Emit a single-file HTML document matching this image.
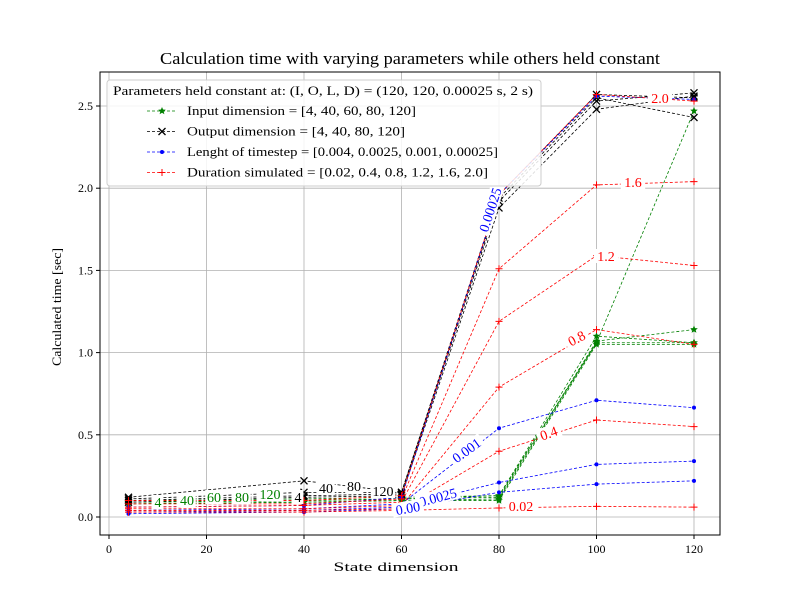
<!DOCTYPE html>
<html><head><meta charset="utf-8"><style>
body{margin:0;background:#fff}
svg{font-family:"Liberation Serif",serif}
</style></head><body>
<svg id="chart" width="800" height="600" viewBox="0 0 800 600">
<rect width="800" height="600" fill="#fff"/>
<text x="410" y="64" font-size="17" text-anchor="middle" textLength="500" lengthAdjust="spacingAndGlyphs">Calculation time with varying parameters while others held constant</text>
<g id="grid"></g>
<g id="series"></g>
<g id="labels"></g>
<rect x="100" y="72" width="620" height="463" fill="none" stroke="#000" stroke-width="1"/>
<g id="ticks"></g>
<text x="396" y="571" font-size="13" text-anchor="middle" textLength="125" lengthAdjust="spacingAndGlyphs">State dimension</text>
<text x="61" y="307" font-size="13" text-anchor="middle" textLength="118" lengthAdjust="spacingAndGlyphs" transform="rotate(-90 61 307)">Calculated time [sec]</text>
<g>
<rect x="107" y="80" width="434" height="106" rx="3" fill="#fff" fill-opacity="0.85" stroke="#ccc"/>
<text x="113" y="95" font-size="13" textLength="420" lengthAdjust="spacingAndGlyphs">Parameters held constant at: (I, O, L, D) = (120, 120, 0.00025 s, 2 s)</text>
<g id="legend-entries"></g>
</g>
</svg>
<script>
const xStates=[4,40,60,80,100,120];
const inputNames=["4","40","60","80","120"];
const inputVals=[
 [0.08,0.09,0.10,0.10,1.05,1.05],
 [0.08,0.09,0.10,0.11,1.06,1.06],
 [0.09,0.10,0.11,0.12,1.07,1.14],
 [0.09,0.10,0.11,0.13,1.10,1.06],
 [0.10,0.11,0.12,0.13,1.06,2.47]];
const outputNames=["4","40","80","120"];
const outputVals=[
 [0.09,0.12,0.13,1.88,2.48,2.56],
 [0.10,0.13,0.14,1.92,2.53,2.58],
 [0.11,0.15,0.15,1.94,2.55,2.43],
 [0.12,0.22,0.15,1.96,2.57,2.55]];
const stepNames=["0.004","0.0025","0.001","0.00025"];
const stepVals=[
 [0.02,0.03,0.05,0.15,0.20,0.22],
 [0.03,0.04,0.06,0.21,0.32,0.34],
 [0.04,0.05,0.08,0.54,0.71,0.665],
 [0.06,0.07,0.12,1.96,2.56,2.54]];
const durNames=["0.02","0.4","0.8","1.2","1.6","2.0"];
const durVals=[
 [0.03,0.03,0.04,0.055,0.065,0.06],
 [0.04,0.04,0.05,0.40,0.59,0.55],
 [0.05,0.05,0.07,0.79,1.14,1.05],
 [0.06,0.07,0.09,1.19,1.59,1.53],
 [0.08,0.08,0.11,1.51,2.02,2.04],
 [0.10,0.10,0.13,1.96,2.57,2.53]];
const xTicks=[0,20,40,60,80,100,120];
const yTicks=[0.0,0.5,1.0,1.5,2.0,2.5];

const NS="http://www.w3.org/2000/svg";
const X=v=>109+v*4.875;
const Y=v=>517-v*164.4;
function mk(tag,attrs,parent){const e=document.createElementNS(NS,tag);for(const k in attrs)e.setAttribute(k,attrs[k]);parent.appendChild(e);return e;}
const grid=document.getElementById('grid'),ticks=document.getElementById('ticks'),ser=document.getElementById('series'),lab=document.getElementById('labels');
xTicks.forEach(t=>{
 const l=mk('line',{x1:X(t),x2:X(t),y1:72,y2:535,stroke:'#b0b0b0','stroke-width':0.8},grid);
 
 const tk=mk('line',{x1:X(t),x2:X(t),y1:535,y2:539,stroke:'#000'},ticks);
 
 const tx=mk('text',{x:X(t),y:553,'font-size':12,'text-anchor':'middle'},ticks);tx.textContent=t;
 
});
yTicks.forEach(t=>{
 const l=mk('line',{x1:100,x2:720,y1:Y(t),y2:Y(t),stroke:'#b0b0b0','stroke-width':0.8},grid);
 
 const tk=mk('line',{x1:96,x2:100,y1:Y(t),y2:Y(t),stroke:'#000'},ticks);
 
 const tx=mk('text',{x:93,y:Y(t)+4,'font-size':12,'text-anchor':'end'},ticks);tx.textContent=t.toFixed(1);
 
});
function marker(kind,color,x,y,g){
 if(kind==='star'){let p=[];for(let i=0;i<10;i++){const r=i%2?1.8:4;const a=-Math.PI/2+i*Math.PI/5;p.push((x+r*Math.cos(a)).toFixed(1)+','+(y+r*Math.sin(a)).toFixed(1));}
  mk('polygon',{points:p.join(' '),fill:color},g);}
 else if(kind==='x'){mk('path',{d:`M${x-3.5},${y-3.5}L${x+3.5},${y+3.5}M${x-3.5},${y+3.5}L${x+3.5},${y-3.5}`,stroke:color,'stroke-width':1.3},g);}
 else if(kind==='dot'){mk('circle',{cx:x,cy:y,r:2,fill:color},g);}
 else {mk('path',{d:`M${x-3.5},${y}L${x+3.5},${y}M${x},${y-3.5}L${x},${y+3.5}`,stroke:color,'stroke-width':1},g);}
}
function series(vals,names,color,kind,group){
 vals.forEach((vs,i)=>{
  const g=mk('g',{},ser);
  
  
  const pts=vs.map((v,j)=>X(xStates[j])+','+Y(v)).join(' ');
  mk('polyline',{points:pts,fill:'none',stroke:color,'stroke-width':0.8,'stroke-dasharray':'3,2'},g);
  vs.forEach((v,j)=>marker(kind,color,X(xStates[j]),Y(v),g));
 });
}
series(inputVals,inputNames,'green','star','input');
series(outputVals,outputNames,'#000','x','output');
series(stepVals,stepNames,'blue','dot','timestep');
series(durVals,durNames,'red','plus','duration');
function label(txt,x,y,color,rot){
 const g=mk('g',{transform:`translate(${x},${y}) rotate(${rot||0})`},lab);
 
 const w=txt.length*6.8+4;
 mk('rect',{x:-w/2,y:-8,width:w,height:14,fill:'#fff'},g);
 const t=mk('text',{x:0,y:4,'font-size':14,'text-anchor':'middle',fill:color},g);t.textContent=txt;
}
label('2.0',660,99,'red');label('1.6',633,183,'red');label('1.2',606,257,'red');
label('0.8',577,339,'red',-28);label('0.4',549,434,'red',-20);label('0.02',521,507,'red');
label('0.00025',491,210,'blue',-72);label('0.001',467,451,'blue',-36);label('0.0025',438,498,'blue',-15);label('0.00',408,509,'blue',-10);
[['4',158,503],['40',187,501],['60',214,498],['80',242,498],['120',270,495]].forEach(a=>label(a[0],a[1],a[2],'green'));
[['4',298,498],['40',326,489],['80',354,487],['120',383,492]].forEach(a=>label(a[0],a[1],a[2],'#000'));
const le=document.getElementById('legend-entries');
[['green','star','Input dimension = [4, 40, 60, 80, 120]',229],['#000','x','Output dimension = [4, 40, 80, 120]',218],['blue','dot','Lenght of timestep = [0.004, 0.0025, 0.001, 0.00025]',311],['red','plus','Duration simulated = [0.02, 0.4, 0.8, 1.2, 1.6, 2.0]',301]].forEach((e,i)=>{
 const y=111+i*20.5;
 const g=mk('g',{},le);
 
 mk('line',{x1:147,x2:177,y1:y,y2:y,stroke:e[0],'stroke-width':0.8,'stroke-dasharray':'3,2'},g);
 marker(e[1],e[0],162,y,g);
 const t=mk('text',{x:187,y:y+4,'font-size':13,textLength:e[3],lengthAdjust:'spacingAndGlyphs'},g);t.textContent=e[2];
});
</script>
</body></html>
